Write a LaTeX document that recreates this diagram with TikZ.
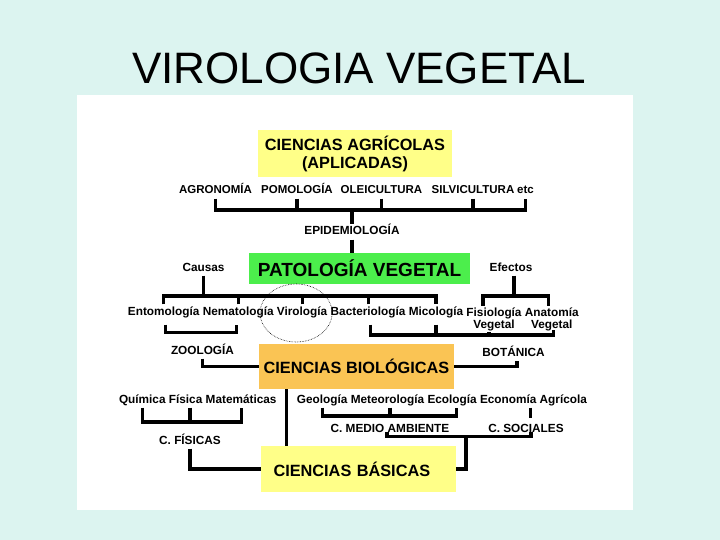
\documentclass[tikz,border=0pt]{standalone}
\usepackage{fontspec}
\setmainfont{Liberation Sans}
\usetikzlibrary{calc}

\definecolor{slidebg}{RGB}{220,244,240}
\definecolor{boxyellow}{RGB}{255,255,136}
\definecolor{boxgreen}{RGB}{76,238,76}
\definecolor{boxorange}{RGB}{250,196,84}

\begin{document}
\begin{tikzpicture}[x=1pt,y=-1pt,
    link/.style={line width=3.2pt, line join=miter},
    lab/.style={font=\bfseries\fontsize{11.8}{12}\selectfont, inner sep=2pt, text height=8.5pt, text depth=2.5pt},
    twolab/.style={font=\bfseries\fontsize{11.8}{12}\selectfont, inner sep=2pt, align=center},
    box/.style={font=\bfseries\fontsize{16.3}{18}\selectfont, inner sep=0pt, align=center}]

            \fill[slidebg] (0,0) rectangle (720,540);
            \useasboundingbox (0,0) rectangle (720,540);
            \fill[white] (77,95) rectangle (633,510);

            \node[anchor=base, font=\fontsize{44}{48}\selectfont] (title) at (359,84) {VIROLOGIA VEGETAL};

            \node[box, fill=boxyellow, minimum width=194pt, minimum height=47pt] (agri) at (355,153.5) {CIENCIAS AGRÍCOLAS\\(APLICADAS)};
            \node[box, fill=boxgreen, minimum width=221pt, minimum height=31pt, font=\bfseries\fontsize{19}{21}\selectfont] (pato) at (359.5,268.5) {PATOLOGÍA VEGETAL};
            \node[box, fill=boxorange, minimum width=195pt, minimum height=45pt] (bio) at (356.5,366.5) {CIENCIAS BIOLÓGICAS};
            \node[box, fill=boxyellow, minimum width=195pt, minimum height=46pt, text width=170pt, align=left, inner xsep=12.5pt] (basic) at (358.5,469) {CIENCIAS BÁSICAS};

            \foreach \n/\x/\t in {agro/215.5/AGRONOMÍA, pomo/297/POMOLOGÍA, oleic/381.5/OLEICULTURA, silvi/473/SILVICULTURA, etc/525.5/etc}{
                \node[lab, font=\bfseries\fontsize{11.5}{12}\selectfont] (\n) at (\x,191) {\t};
            }
            \node[lab] (epid) at (352,232) {EPIDEMIOLOGÍA};
            \node[lab] (causas) at (203.5,268) {Causas};
            \node[lab] (efec) at (511,268) {Efectos};

            \foreach \n/\x/\t in {ento/163.7/Entomología, nema/238.2/Nematología, viro/302.1/Virología, bact/368.1/Bacteriología, mico/436/Micología}{
                \node[lab] (\n) at (\x,312) {\t};
            }
            \node[twolab] (fisio) at (494,319.5) {Fisiología\\Vegetal};
            \node[twolab] (anat) at (551.8,319.5) {Anatomía\\Vegetal};

            \node[lab] (zoo) at (202.5,351) {ZOOLOGÍA};
            \node[lab] (bota) at (513.5,353) {BOTÁNICA};

            \foreach \n/\x/\t in {quim/142.3/Química, fisi/185.6/Física, mate/241.1/Matemáticas, geol/322.2/Geología, meteo/387.5/Meteorología, ecol/452.1/Ecología, econ/533.5/Economía Agrícola}{
                \node[lab] (\n) at (\x,400) {\t};
            }
            \node[lab] (camb) at (390,429) {C. MEDIO AMBIENTE};
            \node[lab] (csoc) at (526,429) {C. SOCIALES};
            \node[lab] (cfis) at (190,441) {C. FÍSICAS};

            \coordinate (agrobar) at (0,210);
            \coordinate (causbar) at (0,296);
            \coordinate (botbar) at (0,335);
            \coordinate (ambbar) at (0,416);
            \coordinate (fisbar) at (0,422);
            \coordinate (biodrop) at ($(bio.south west)+(28,0)$);

            \draw[link] (agro.south) -- (agro |- agrobar) -- (etc |- agrobar) -- (etc.south);
            \foreach \n in {pomo,oleic,silvi}{
                \draw[link] (\n.south) -- (\n |- agrobar);
            }
            \draw[link] (epid |- agrobar) -- (epid.north);
            \draw[link] (epid.south) -- (epid |- pato.north);

            \draw[link] (causas.south) -- (causas |- causbar);
            \draw[link] (ento.north) -- (ento |- causbar) -- (mico |- causbar) -- (mico.north);
            \foreach \n in {nema,viro,bact}{
                \draw[link] (\n.north) -- (\n |- causbar);
            }
            \draw[link] ($(efec.south)+(3,0)$) -- ($(efec |- causbar)+(3,0)$);
            \draw[link] ($(fisio.north)+(-11,0)$) -- ($(fisio |- causbar)+(-11,0)$) -- ($(anat |- causbar)+(-3.5,0)$) -- ($(anat.north)+(-3.5,0)$);

            \draw[link] ($(ento.south)+(1.5,5)$) |- ($(nema.south)+(-2,13)$) -- ($(nema.south)+(-2,5)$);
            \draw[link] ($(bact.south)+(2,5)$) |- ($(anat |- botbar)+(1.5,0)$) -- ($(anat |- botbar)+(1.5,-5)$);
            \draw[link] ($(mico.south)+(0,5)$) -- (mico |- botbar);
            \draw[link] ($(fisio |- botbar)+(-5,-3)$) -- ($(fisio |- botbar)+(-5,0)$);

            \draw[link] (zoo.south) |- (bio.west);
            \draw[link] (bio.east) -| ($(bota.south)+(3.5,0)$);
            \draw[link] (biodrop) -- (biodrop |- basic.north);

            \draw[link] (quim.south) -- (quim |- fisbar) -- (mate |- fisbar) -- (mate.south);
            \draw[link] (cfis |- quim.south) -- (cfis |- fisbar);
            \draw[link] (cfis.south) |- (basic.west);

            \draw[link] (geol.south) -- (geol |- ambbar) -- ($(ecol |- ambbar)+(4,0)$) -- ($(ecol.south)+(4,0)$);
            \draw[link] (camb |- geol.south) -- (camb |- ambbar);
            \draw[link] ($(econ.south)+(-3,0)$) -- ++(0,10);
            \draw[link] ($(camb.south)+(-3,-5)$) -- ($(camb.south)+(-3,0)$) -- ($(csoc.south)+(5,0)$) -- ($(csoc.south)+(5,-5)$);
            \draw[link] ($(camb.south)+(76,0)$) |- (basic.east);

            \draw[densely dotted, line width=0.6pt] ($(viro)+(-6,1)$) ellipse [x radius=36, y radius=29];
        \end{tikzpicture}
\end{document}
